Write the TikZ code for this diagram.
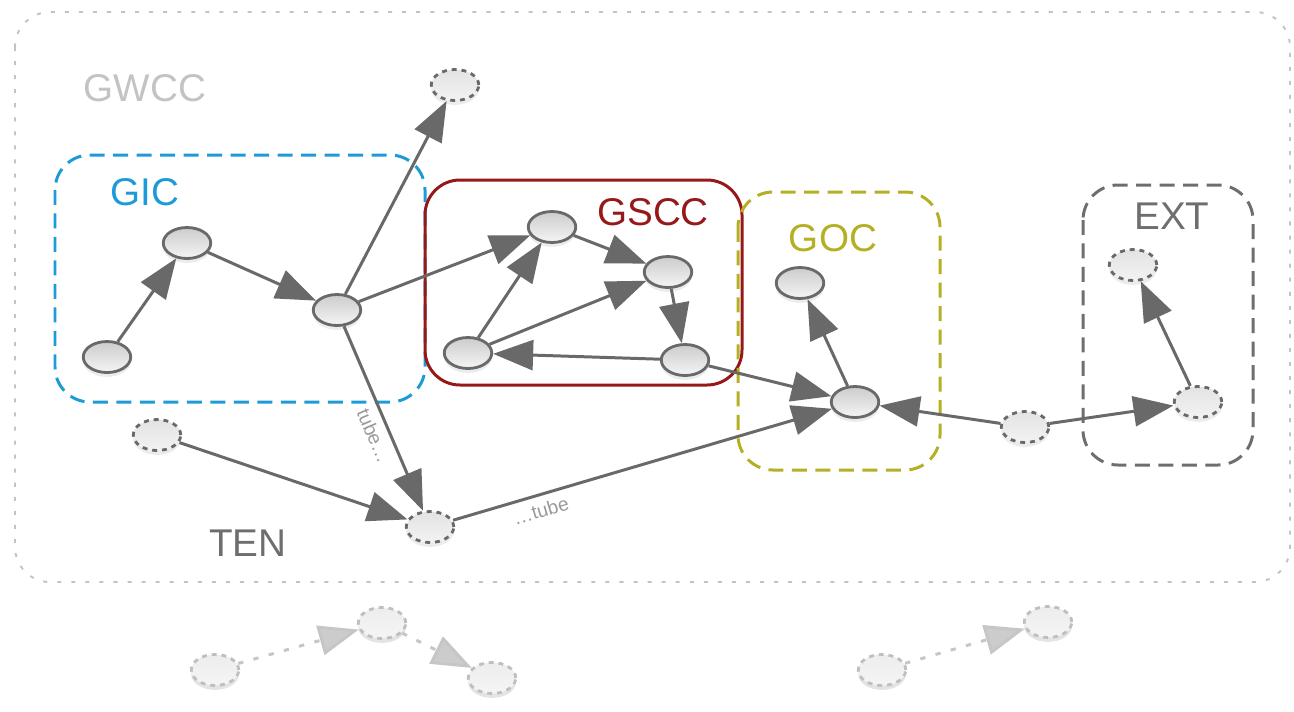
\documentclass[tikz,border=0pt]{standalone}
\usepackage{fontspec}
\setmainfont{Liberation Sans}
\usepackage{tikz}
\usetikzlibrary{arrows.meta,shapes.geometric,shadows}
\usepackage{xcolor}
\definecolor{gicblue}{RGB}{30,155,215}
\definecolor{gsccred}{RGB}{150,25,25}
\definecolor{gocolive}{RGB}{180,175,35}
\definecolor{extgray}{RGB}{110,110,110}
\definecolor{wccgray}{RGB}{195,195,195}
\definecolor{linkgray}{RGB}{105,105,105}

\begin{document}
\begin{tikzpicture}[x=0.02cm,y=-0.02cm,
  vtx/.style={ellipse,draw=linkgray,line width=1.6pt,minimum width=0.95cm,
    minimum height=0.62cm,inner sep=0pt,top color=gray!40,bottom color=gray!8,
    drop shadow={opacity=0.15,shadow xshift=0pt,shadow yshift=-2.5pt}},
  dvtx/.style={vtx,dash pattern=on 2.8pt off 2.8pt,top color=gray!22,bottom color=gray!10},
  fvtx/.style={dvtx,draw=gray!50,top color=gray!14,bottom color=gray!8,
    drop shadow={opacity=0.08,shadow xshift=0pt,shadow yshift=-2.5pt}},
  link/.style={draw=linkgray,line width=1.7pt,-{Triangle[length=0.8cm,width=0.6cm]}},
  flink/.style={draw=gray!45,line width=1.7pt,dash pattern=on 3pt off 6pt,
    -{Triangle[length=0.8cm,width=0.6cm,fill=gray!40]}},
  box/.style={rounded corners=0.7cm,line width=1.7pt,dash pattern=on 0.3cm off 0.17cm},
  lbl/.style={font=\fontsize{22}{24}\selectfont},
  tubelbl/.style={font=\fontsize{11}{12}\selectfont,text=gray!80,inner sep=4pt}]
  \useasboundingbox (0,0) rectangle (1294,711);

  % components
  \draw[box,wccgray,line width=1.1pt,dash pattern=on 2.3pt off 5.7pt] (15,12) rectangle (1290,582);
  \draw[box,gicblue] (55,155) rectangle (425,402);
  \draw[rounded corners=0.7cm,line width=1.7pt,gsccred] (425,180) rectangle (742,385);
  \draw[box,gocolive] (738,192) rectangle (940,470);
  \draw[box,extgray] (1083,185) rectangle (1253,465);

  \node[lbl,wccgray] (gwcc) at (145,88) {GWCC};
  \node[lbl,gicblue] (gic) at (145,192) {GIC};
  \node[lbl,gsccred] (gscc) at (653,212) {GSCC};
  \node[lbl,gocolive] (goc) at (833,238) {GOC};
  \node[lbl,extgray] (ext) at (1172,216) {EXT};
  \node[lbl,extgray] (ten) at (248,543) {TEN};

  % vertices
  \node[dvtx] (top) at (455,85) {};
  \node[vtx] (a1) at (107,357) {};
  \node[vtx] (a2) at (187,243) {};
  \node[vtx] (hub) at (337,310) {};
  \node[vtx] (s1) at (552,227) {};
  \node[vtx] (s2) at (668,272) {};
  \node[vtx] (s3) at (468,353) {};
  \node[vtx] (s4) at (685,360) {};
  \node[vtx] (g1) at (855,402) {};
  \node[vtx] (g2) at (800,283) {};
  \node[dvtx] (t1) at (157,435) {};
  \node[dvtx] (t2) at (430,527) {};
  \node[dvtx] (c1) at (1025,427) {};
  \node[dvtx] (e1) at (1198,402) {};
  \node[dvtx] (e2) at (1133,265) {};

  % disconnected
  \node[fvtx] (b1) at (215,670) {};
  \node[fvtx] (b2) at (382,623) {};
  \node[fvtx] (b3) at (492,678) {};
  \node[fvtx] (b4) at (882,670) {};
  \node[fvtx] (b5) at (1048,622) {};

  % links
  \draw[link] (a1) -- (a2);
  \draw[link] (a2) -- (hub);
  \draw[link] (hub) -- (top);
  \draw[link] (hub) -- (s1);
  \draw[link] (hub) -- node[sloped,below,pos=0.56,tubelbl] {tube\dots} (t2);
  \draw[link] (s3) -- (s1);
  \draw[link] (s3) -- (s2);
  \draw[link] (s1) -- (s2);
  \draw[link] (s2) -- (s4);
  \draw[link] (s4) -- (s3);
  \draw[link] (s4) -- (g1);
  \draw[link] (g1) -- (g2);
  \draw[link] (c1) -- (g1);
  \draw[link] (c1) -- (e1);
  \draw[link] (e1) -- (e2);
  \draw[link] (t1) -- (t2);
  \draw[link] (t2) -- node[sloped,below,pos=0.22,tubelbl] {\dots tube} (g1);
  \draw[flink] (b1) -- (b2);
  \draw[flink] (b2) -- (b3);
  \draw[flink] (b4) -- (b5);
\end{tikzpicture}
\end{document}
